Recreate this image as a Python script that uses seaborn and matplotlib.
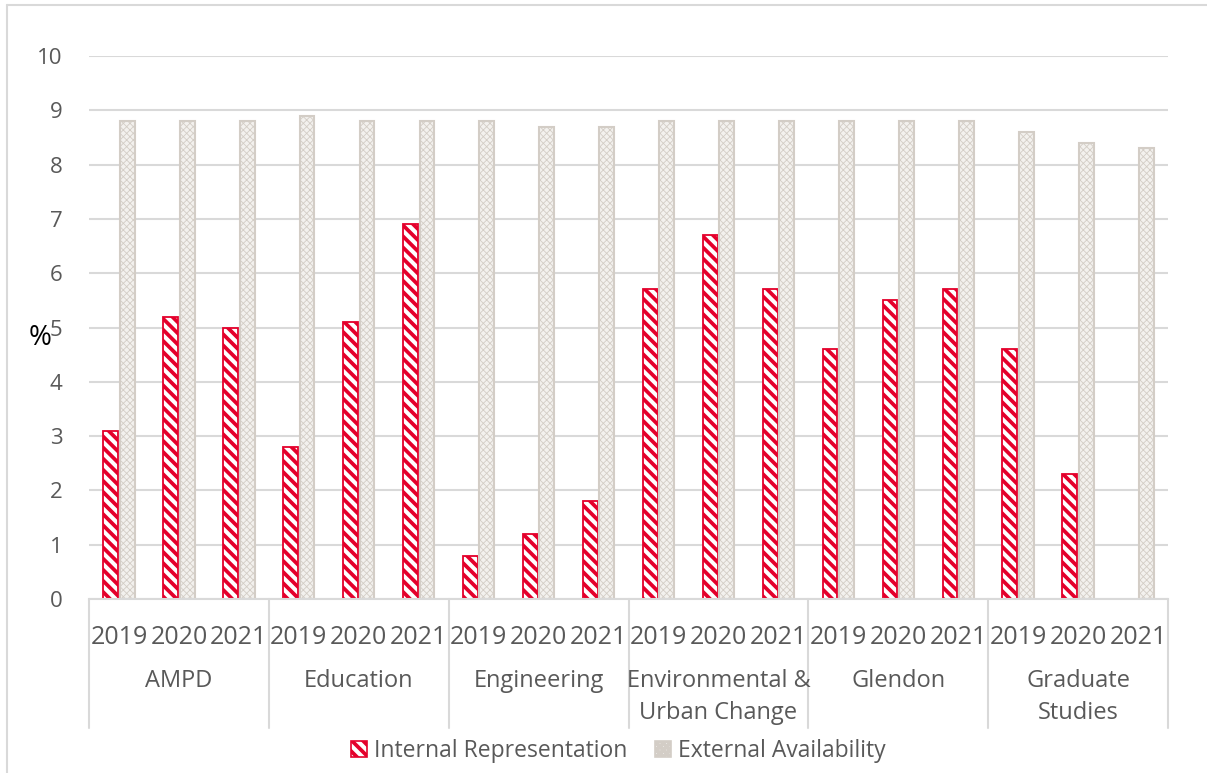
import numpy as np
import pandas as pd
import matplotlib
matplotlib.use("Agg")
import matplotlib.pyplot as plt
from matplotlib.patches import Patch
from matplotlib.lines import Line2D
import seaborn as sns

# ---- data -------------------------------------------------------------
faculties = ["AMPD", "Education", "Engineering", "Environmental &\nUrban Change",
             "Glendon", "Graduate\nStudies"]
years = ["2019", "2020", "2021"]
internal = [3.1, 5.2, 5.0,
            2.8, 5.1, 6.9,
            0.8, 1.2, 1.8,
            5.7, 6.7, 5.7,
            4.6, 5.5, 5.7,
            4.6, 2.3, np.nan]
external = [8.8, 8.8, 8.8,
            8.9, 8.8, 8.8,
            8.8, 8.7, 8.7,
            8.8, 8.8, 8.8,
            8.8, 8.8, 8.8,
            8.6, 8.4, 8.3]
series_names = ["Internal Representation", "External Availability"]
y_ticks = list(range(0, 11))

# ---- styling ----------------------------------------------------------
sns.set_theme(style="white")
plt.rcParams["font.family"] = ["Open Sans", "DejaVu Sans"]
plt.rcParams["hatch.linewidth"] = 2.7
TEXT = "#595959"
GRID = "#d9d9d9"
RED = "#e4002b"
GREY_EDGE = "#d3cdc6"

slots = [f"{f}|{y}" for f in faculties for y in years]
df = pd.DataFrame({
    "slot": slots * 2,
    "value": internal + external,
    "series": [series_names[0]] * len(slots) + [series_names[1]] * len(slots),
})

W, H = 1207, 773
fig = plt.figure(figsize=(W / 100, H / 100), dpi=100)
ax = fig.add_axes([89 / W, 1 - 599 / H, (1168 - 89) / W, (599 - 56) / H])

sns.barplot(data=df, x="slot", y="value", hue="series", order=slots,
            hue_order=series_names, width=0.55, gap=0.1, ax=ax,
            legend=False, errorbar=None)

def style_internal(p):
    p.set_facecolor("white")
    p.set_edgecolor(RED)
    p.set_hatch("\\\\\\")
    p.set_linewidth(1.3)
    if hasattr(p, "set_hatch_linewidth"):
        p.set_hatch_linewidth(2.7)

def style_external(p):
    p.set_facecolor("#f3f1ee")
    p.set_edgecolor(GREY_EDGE)
    p.set_hatch("xxxxx")
    p.set_linewidth(1.5)
    if hasattr(p, "set_hatch_linewidth"):
        p.set_hatch_linewidth(0.6)

for p in ax.containers[0]:
    style_internal(p)
for p in ax.containers[1]:
    style_external(p)

# axes limits, grid, spines
ax.set_xlim(-0.5, len(slots) - 0.5)
ax.set_ylim(0, 10)
ax.set_yticks(y_ticks)
ax.set_yticklabels([str(t) for t in y_ticks])
ax.yaxis.grid(True, color=GRID, linewidth=1.5)
ax.set_axisbelow(True)
for s in ["top", "right", "left"]:
    ax.spines[s].set_visible(False)
ax.spines["bottom"].set_color(GRID)
ax.spines["bottom"].set_linewidth(1.5)
ax.tick_params(axis="y", length=0, pad=19, labelsize=16, labelcolor=TEXT)
ax.set_xlabel("")
ax.set_ylabel("")

# two-level category axis
ax.set_xticks(range(len(slots)))
ax.set_xticklabels(years * len(faculties))
ax.tick_params(axis="x", length=0, pad=19, labelsize=18, labelcolor=TEXT)

sep_bottom = -(728 - 599) / (599 - 56)
trans = ax.get_xaxis_transform()
for i in range(len(faculties) + 1):
    x = i * 3 - 0.5
    ax.plot([x, x], [0, sep_bottom], transform=trans, color=GRID,
            linewidth=1.5, clip_on=False)
for i, f in enumerate(faculties):
    ax.text(i * 3 + 1, -(669 - 599) / (599 - 56), f, transform=trans,
            ha="center", va="top", fontsize=17, color=TEXT, linespacing=1.42)

fig.text(40 / W, 1 - 338 / H, "%", ha="center", va="center",
         fontsize=20, color="black")

# legend
handles = [
    Patch(facecolor="white", edgecolor=RED, hatch="\\\\\\", linewidth=1.2,
          label=series_names[0]),
    Patch(facecolor="#f3f1ee", edgecolor=GREY_EDGE, hatch="xxxxx", linewidth=1.2,
          label=series_names[1]),
]
fig.legend(handles=handles, loc="center", bbox_to_anchor=(618 / W, 1 - 751 / H),
           ncol=2, frameon=False, fontsize=16.5, handlelength=0.7,
           handleheight=0.7, handletextpad=0.3, columnspacing=1.2,
           labelcolor=TEXT)

# chart frame
fig.add_artist(Line2D([7 / W, 7 / W], [0, 1 - 5 / H], transform=fig.transFigure,
                      color=GRID, linewidth=1.5))
fig.add_artist(Line2D([7 / W, 1], [1 - 5 / H, 1 - 5 / H], transform=fig.transFigure,
                      color=GRID, linewidth=1.5))

fig.savefig("out.png", dpi=100)
